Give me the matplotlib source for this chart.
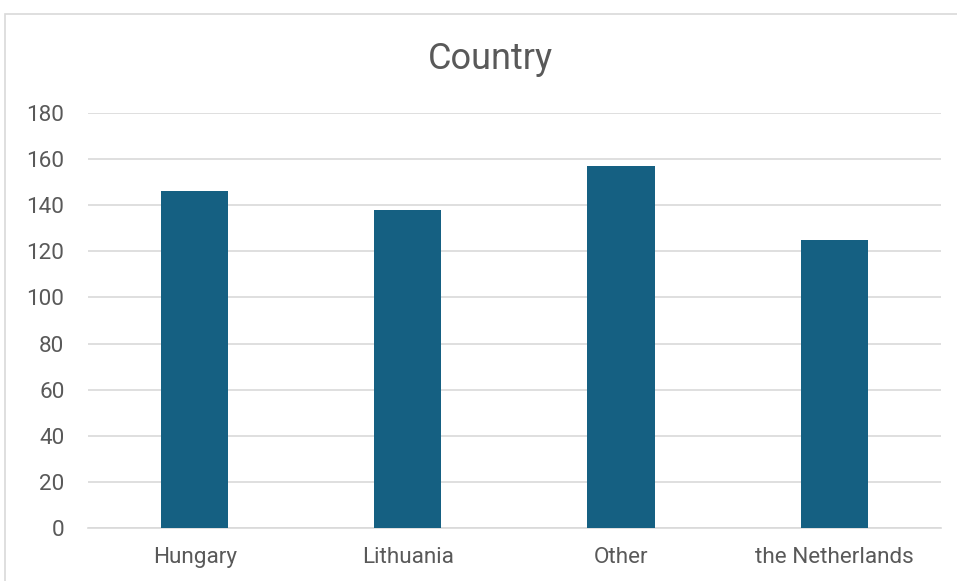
import matplotlib.pyplot as plt
from matplotlib.patches import Rectangle

countries = ["Hungary", "Lithuania", "Other", "the Netherlands"]
counts = [146, 138, 157, 125]
y_ticks = [0, 20, 40, 60, 80, 100, 120, 140, 160, 180]

bar_color = "#156082"
text_color = "#595959"
grid_color = "#d9d9d9"

plt.rcParams["font.family"] = ["Roboto", "DejaVu Sans"]

fig = plt.figure(figsize=(9.57, 5.81), dpi=100)
ax = fig.add_axes([0.092, 0.0912, 0.891, 0.7143])

# outer chart border
fig.patches.append(Rectangle((5 / 957, -0.1), 1.1, 1.1 - 14 / 581,
                             transform=fig.transFigure, fill=False,
                             edgecolor=grid_color, linewidth=1.2))

x = range(len(countries))
ax.bar(x, counts, width=0.315, color=bar_color, zorder=3)

ax.set_xlim(-0.5, len(countries) - 0.5)
ax.set_ylim(0, 180)
ax.set_yticks(y_ticks)
ax.set_xticks(list(x))
ax.set_xticklabels(countries)
ax.yaxis.grid(True, color=grid_color, linewidth=1.2, zorder=0)
ax.tick_params(axis="both", length=0, labelsize=16.2, colors=text_color)
ax.tick_params(axis="x", pad=14)
ax.tick_params(axis="y", pad=17)

for side in ["top", "right", "left"]:
    ax.spines[side].set_visible(False)
ax.spines["bottom"].set_color(grid_color)
ax.spines["bottom"].set_linewidth(1.2)

fig.text(0.512, 0.898, "Country", ha="center", va="center",
         fontsize=26, color=text_color)

fig.savefig("out.png", dpi=100)
